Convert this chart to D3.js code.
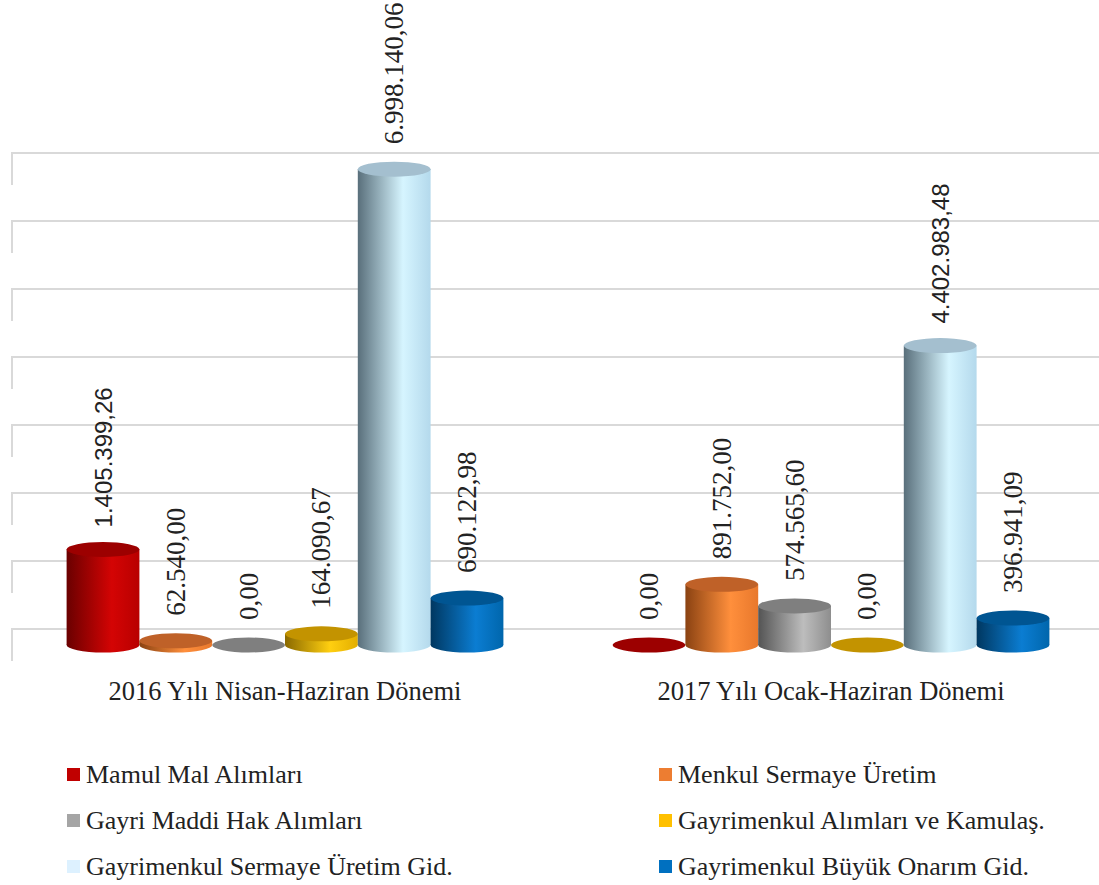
<!DOCTYPE html>
<html>
<head>
<meta charset="utf-8">
<script src="https://cdn.jsdelivr.net/npm/d3@7"></script>
<style>
  body { margin: 0; background: #fff; }
</style>
</head>
<body>
<div id="chart"></div>
<script>
// Data
const periods = ["2016 Yılı Nisan-Haziran Dönemi", "2017 Yılı Ocak-Haziran Dönemi"];
const series = [
  "Mamul Mal Alımları",
  "Menkul Sermaye Üretim",
  "Gayri Maddi Hak Alımları",
  "Gayrimenkul Alımları ve Kamulaş.",
  "Gayrimenkul Sermaye Üretim Gid.",
  "Gayrimenkul Büyük Onarım Gid."
];
const values2016 = [1405399.26, 62540.00, 0.00, 164090.67, 6998140.06, 690122.98];
const values2017 = [0.00, 891752.00, 574565.60, 0.00, 4402983.48, 396941.09];
const gridTicks = [0, 1e6, 2e6, 3e6, 4e6, 5e6, 6e6, 7e6];

// colours: legend, shaded side stops, top face
const legendColors = ["#C00000", "#ED7D31", "#A5A5A5", "#FFC000", "#DDF1FF", "#0070C0"];
const shades = [
  ["#6a0000", "#d40404", "#b80000"],
  ["#8a4212", "#ff8f3c", "#e8782c"],
  ["#545454", "#bdbdbd", "#8e8e8e"],
  ["#8a6900", "#ffcf10", "#e3ae00"],
  ["#596f7b", "#d6f5ff", "#b4d9ec"],
  ["#003760", "#0b7dd2", "#0066ac"]
];
const topColors = ["#9c0000", "#bf6128", "#7f7f7f", "#c39300", "#a4bfcf", "#005592"];

// a couple of data labels in the original are set in a sans face
const sansLabel = { "0-0": true, "1-4": true };

const FONT = "'Liberation Serif', 'DejaVu Serif', serif";
const SANS = "'Liberation Sans', Arial, sans-serif";
const W = 1099, H = 885;
const svg = d3.select("#chart").append("svg")
  .attr("width", W).attr("height", H)
  .attr("font-family", FONT);

const fmt = v => {
  const [i, f] = v.toFixed(2).split(".");
  return i.replace(/\B(?=(\d{3})+(?!\d))/g, ".") + "," + f;
};

// scales
const x0 = d3.scaleBand().domain(periods).range([12, 1104]).paddingInner(0).paddingOuter(0);
const groupW = x0.bandwidth() * 0.8;
const x1 = d3.scaleBand().domain(series).range([0, groupW]).padding(0);
const y = d3.scaleLinear().domain([0, 7e6]).range([645, 169]);      // front (bars)
const yBack = d3.scaleLinear().domain([0, 7e6]).range([629, 153]);  // back wall grid
const depth = 32;

// gradients
const defs = svg.append("defs");
shades.forEach((s, i) => {
  const g = defs.append("linearGradient").attr("id", "g" + i)
    .attr("x1", "0%").attr("x2", "100%").attr("y1", "0%").attr("y2", "0%");
  g.append("stop").attr("offset", "0%").attr("stop-color", s[0]);
  g.append("stop").attr("offset", "62%").attr("stop-color", s[1]);
  g.append("stop").attr("offset", "100%").attr("stop-color", s[2]);
});

// grid
const grid = svg.append("g").attr("stroke", "#d9d9d9").attr("stroke-width", 2).attr("fill", "none");
gridTicks.forEach(t => {
  grid.append("path")
    .attr("d", `M12,${yBack(t) + depth} V${yBack(t)} H${W}`);
});

// bars
const rows = periods.map((p, gi) => ({ p, vals: gi === 0 ? values2016 : values2017 }));
const ry = 7.5;
rows.forEach((r, gi) => {
  const gx = x0(r.p) + (x0.bandwidth() - groupW) / 2;
  r.vals.forEach((v, i) => {
    const bx = gx + x1(series[i]);
    const bw = x1.bandwidth();
    const cx = bx + bw / 2;
    const yt = y(v), yb = y(0);
    const g = svg.append("g");
    if (v > 0) {
      g.append("ellipse").attr("cx", cx).attr("cy", yb).attr("rx", bw / 2).attr("ry", ry)
        .attr("fill", `url(#g${i})`);
      g.append("rect").attr("x", bx).attr("y", yt).attr("width", bw).attr("height", yb - yt)
        .attr("fill", `url(#g${i})`);
    }
    g.append("ellipse").attr("cx", cx).attr("cy", yt).attr("rx", bw / 2).attr("ry", ry)
      .attr("fill", topColors[i]);
    const sans = sansLabel[gi + "-" + i];
    svg.append("text")
      .attr("transform", `translate(${cx},${yt - (sans ? 22 : 25)}) rotate(-90)`)
      .attr("dominant-baseline", "central")
      .attr("font-family", sans ? SANS : FONT)
      .attr("font-size", sans ? 24 : 27)
      .attr("fill", "#222")
      .text(fmt(v));
  });
  svg.append("text")
    .attr("x", x0(r.p) + x0.bandwidth() / 2).attr("y", 700)
    .attr("text-anchor", "middle")
    .attr("font-size", 26.5)
    .attr("fill", "#222")
    .text(r.p);
});

// legend
const legX = [67, 659];
const legY = [783, 829, 875];
series.forEach((s, i) => {
  const lx = legX[i % 2], ly = legY[Math.floor(i / 2)];
  svg.append("rect").attr("x", lx).attr("y", ly - 15).attr("width", 13).attr("height", 13)
    .attr("fill", legendColors[i]);
  svg.append("text").attr("x", lx + 19).attr("y", ly)
    .attr("font-size", 26)
    .attr("fill", "#222")
    .text(s);
});
</script>
</body>
</html>
